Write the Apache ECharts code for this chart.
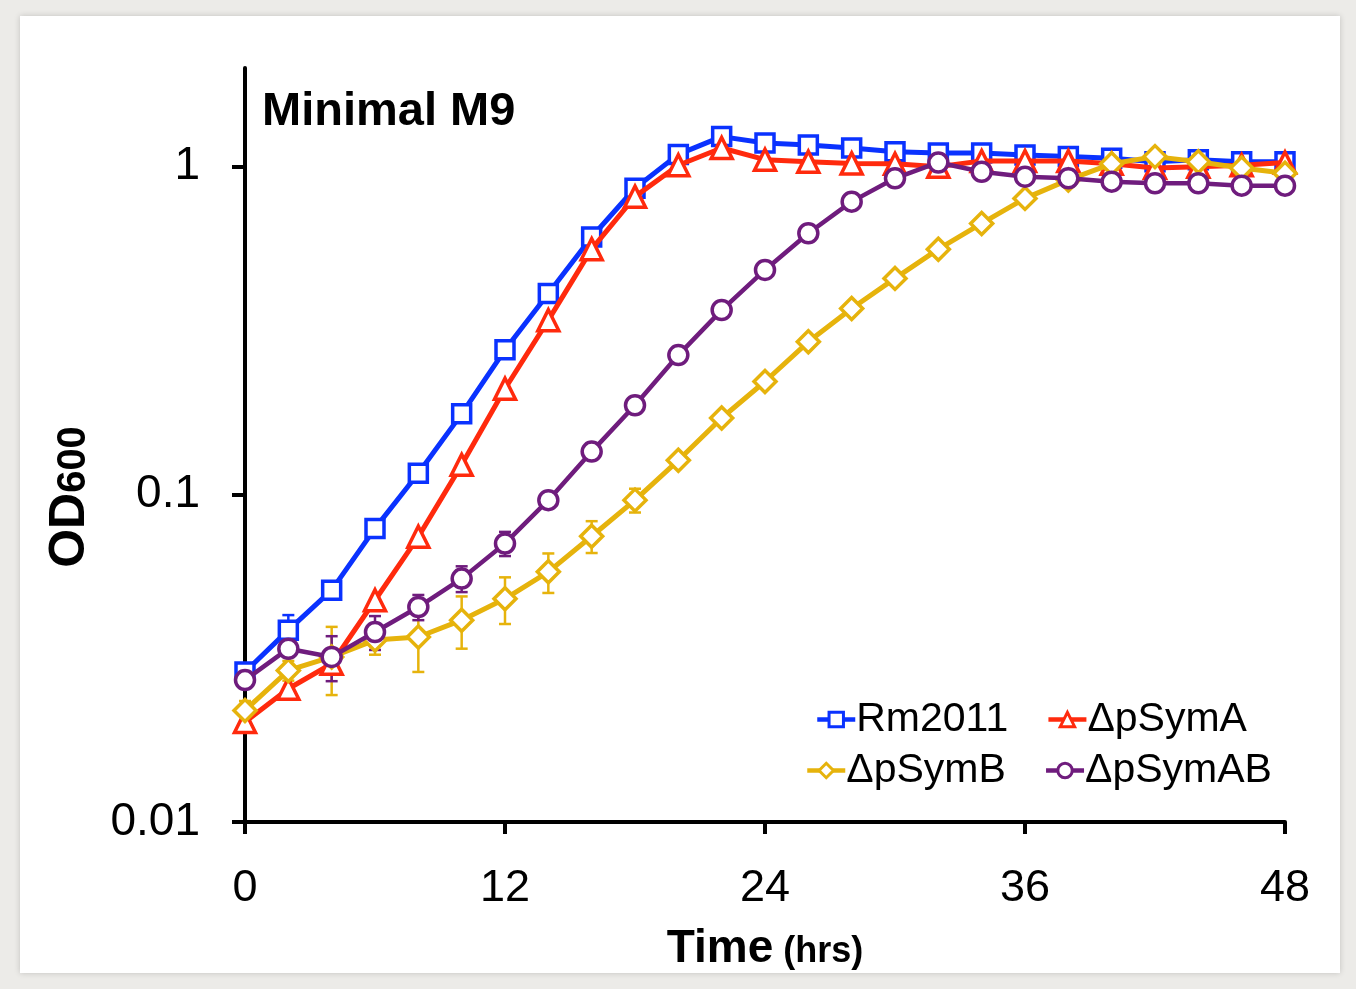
<!DOCTYPE html>
<html>
<head>
<meta charset="utf-8">
<script src="https://cdn.jsdelivr.net/npm/echarts@6/dist/echarts.min.js"></script>
<style>
  html, body { margin: 0; padding: 0; background: #ecebe8; }
  #card { position: absolute; left: 20px; top: 16px; width: 1320px; height: 957px; background: #ffffff;
          box-shadow: 0 0 6px rgba(0,0,0,0.18); }
  #chart { position: absolute; left: 0; top: 0; width: 1356px; height: 989px; }
</style>
</head>
<body>
<div id="card"></div>
<div id="chart"></div>
<script>
// ---- data ----
const times = [0, 2, 4, 6, 8, 10, 12, 14, 16, 18, 20, 22, 24, 26, 28, 30, 32, 34, 36, 38, 40, 42, 44, 46, 48];

const rm2011 = [0.0287, 0.0385, 0.051, 0.0787, 0.116, 0.176, 0.276, 0.41, 0.61, 0.859, 1.09, 1.235, 1.18, 1.165, 1.14, 1.11, 1.10, 1.10, 1.085, 1.073, 1.06, 1.035, 1.05, 1.035, 1.035];
const pSymA  = [0.0202, 0.0255, 0.0304, 0.0475, 0.0742, 0.123, 0.210, 0.340, 0.560, 0.81, 1.01, 1.14, 1.05, 1.035, 1.023, 1.02, 1.0, 1.04, 1.04, 1.04, 1.02, 0.99, 1.0, 1.01, 1.03];
const pSymB  = [0.0219, 0.029, 0.0319, 0.0359, 0.0367, 0.0413, 0.048, 0.058, 0.0745, 0.096, 0.127, 0.171, 0.221, 0.292, 0.369, 0.456, 0.560, 0.671, 0.80, 0.911, 1.02, 1.073, 1.035, 0.99, 0.954];
const pSymAB = [0.0271, 0.0338, 0.0319, 0.038, 0.0453, 0.0553, 0.0708, 0.096, 0.135, 0.187, 0.266, 0.365, 0.484, 0.626, 0.782, 0.921, 1.03, 0.965, 0.932, 0.921, 0.90, 0.89, 0.89, 0.875, 0.875];

// error bars (± in OD units)
const rm2011Err = [0.001, 0.0043, 0, 0, 0, 0, 0, 0, 0, 0, 0, 0, 0, 0, 0, 0, 0, 0, 0, 0, 0, 0, 0, 0, 0];
const pSymAErr  = [0, 0, 0, 0, 0, 0, 0, 0, 0, 0, 0, 0, 0, 0, 0, 0, 0, 0, 0, 0, 0, 0, 0, 0, 0];
const pSymBErr  = [0.0015, 0.002, 0.0075, 0.0035, 0.008, 0.0075, 0.0078, 0.008, 0.0083, 0.008, 0, 0, 0, 0, 0, 0, 0, 0, 0, 0, 0, 0, 0, 0, 0];
const pSymABErr = [0, 0, 0.005, 0.0045, 0.004, 0.005, 0.006, 0, 0, 0, 0, 0, 0, 0, 0, 0, 0, 0, 0, 0, 0, 0, 0, 0, 0];

const seriesNames = ['Rm2011', 'ΔpSymA', 'ΔpSymB', 'ΔpSymAB'];
const xTicks = [0, 12, 24, 36, 48];
const yTicks = [0.01, 0.1, 1];
const yTickLabels = ['0.01', '0.1', '1'];

// ---- styles ----
const FONT = "'Liberation Sans', Arial, Helvetica, sans-serif";
const colors = ['#0a32ff', '#ff2a0d', '#e6b30c', '#6f1c7d'];
const symbols = ['rect', 'triangle', 'diamond', 'circle'];
const symbolSizes = [18, 21, 22, 19];
const lineWidths = [5, 5, 5, 4.5];
const values = [rm2011, pSymA, pSymB, pSymAB];
const errs = [rm2011Err, pSymAErr, pSymBErr, pSymABErr];
const zs = [2, 3, 4, 5];

const chart = echarts.init(document.getElementById('chart'), null, { renderer: 'canvas' });

const series = [];
values.forEach((vals, k) => {
  series.push({
    name: seriesNames[k],
    type: 'line',
    data: times.map((t, i) => [t, vals[i]]),
    symbol: symbols[k],
    symbolSize: symbolSizes[k],
    showSymbol: true,
    z: zs[k] + 2,
    lineStyle: { color: colors[k], width: lineWidths[k] },
    itemStyle: { color: '#ffffff', borderColor: colors[k], borderWidth: 3.5 },
    emphasis: { disabled: true },
    animation: false
  });
});

values.forEach((vals, k) => {
  const ed = [];
  times.forEach((t, i) => {
    if (errs[k][i] > 0) ed.push([t, vals[i] - errs[k][i], vals[i] + errs[k][i]]);
  });
  series.push({
    name: seriesNames[k] + ' err',
    type: 'custom',
    z: 1,
    silent: true,
    data: ed,
    renderItem: function (params, api) {
      const x = api.value(0), lo = api.value(1), hi = api.value(2);
      const p1 = api.coord([x, lo]);
      const p2 = api.coord([x, hi]);
      const hw = 6;
      const st = { stroke: colors[k], lineWidth: 2.5 };
      return {
        type: 'group',
        children: [
          { type: 'line', shape: { x1: p1[0], y1: p1[1], x2: p2[0], y2: p2[1] }, style: st },
          { type: 'line', shape: { x1: p1[0] - hw, y1: p1[1], x2: p1[0] + hw, y2: p1[1] }, style: st },
          { type: 'line', shape: { x1: p2[0] - hw, y1: p2[1], x2: p2[0] + hw, y2: p2[1] }, style: st }
        ]
      };
    },
    encode: { x: 0, y: [1, 2] },
    animation: false
  });
});

const legendBase = {
  orient: 'horizontal',
  itemWidth: 38,
  itemHeight: 18,
  itemGap: 38,
  lineStyle: { width: 4.5 },
  itemStyle: { borderWidth: 3 },
  textStyle: { fontFamily: FONT, fontSize: 41, color: '#000000', padding: [0, 0, 0, -4] },
  selectedMode: false
};

const option = {
  backgroundColor: 'transparent',
  animation: false,
  title: {
    text: 'Minimal M9',
    left: 257,
    top: 84,
    textStyle: { fontFamily: FONT, fontSize: 47, fontWeight: 'bold', color: '#000000' }
  },
  legend: [
    Object.assign({}, legendBase, { data: [seriesNames[0], seriesNames[1]], left: 810, top: 694 }),
    Object.assign({}, legendBase, { data: [seriesNames[2], seriesNames[3]], left: 800, top: 745 })
  ],
  grid: { left: 245, right: 71, top: 68, bottom: 167, containLabel: false },
  xAxis: {
    type: 'value',
    min: 0,
    max: 48,
    interval: 12,
    name: '{a|Time}{b| (hrs)}',
    nameLocation: 'middle',
    nameGap: 104,
    nameTextStyle: {
      rich: {
        a: { fontFamily: FONT, fontSize: 46, fontWeight: 'bold', color: '#000' },
        b: { fontFamily: FONT, fontSize: 36, fontWeight: 'bold', color: '#000', padding: [6, 0, 0, 0] }
      }
    },
    axisLine: { show: true, onZero: false, lineStyle: { color: '#000', width: 4 } },
    axisTick: { show: true, inside: false, length: 12, lineStyle: { color: '#000', width: 4 } },
    axisLabel: {
      margin: 44,
      fontFamily: FONT, fontSize: 45, color: '#000',
      formatter: function (v) { return xTicks.indexOf(v) >= 0 ? String(v) : ''; }
    },
    splitLine: { show: false }
  },
  yAxis: {
    type: 'log',
    logBase: 10,
    min: 0.01,
    max: 2,
    axisLine: { show: true, onZero: false, lineStyle: { color: '#000', width: 4 } },
    axisTick: { show: true, inside: false, length: 13, lineStyle: { color: '#000', width: 4 }, customValues: yTicks },
    axisLabel: {
      margin: 45,
      fontFamily: FONT, fontSize: 46, color: '#000',
      customValues: yTicks,
      formatter: function (v) {
        let best = 0, bd = Infinity;
        yTicks.forEach((t, i) => { const d = Math.abs(Math.log10(v) - Math.log10(t)); if (d < bd) { bd = d; best = i; } });
        return bd < 0.01 ? yTickLabels[best] : '';
      }
    },
    splitLine: { show: false }
  },
  graphic: [
    {
      type: 'text',
      x: 70,
      y: 497,
      rotation: Math.PI / 2,
      style: {
        text: '{a|OD}{b|600}',
        textAlign: 'center',
        textVerticalAlign: 'middle',
        rich: {
          a: { fontFamily: FONT, fontSize: 50, fontWeight: 'bold', fill: '#000' },
          b: { fontFamily: FONT, fontSize: 40, fontWeight: 'bold', fill: '#000', padding: [8, 0, 0, 0] }
        }
      }
    }
  ],
  series: series
};

chart.setOption(option);
</script>
</body>
</html>
